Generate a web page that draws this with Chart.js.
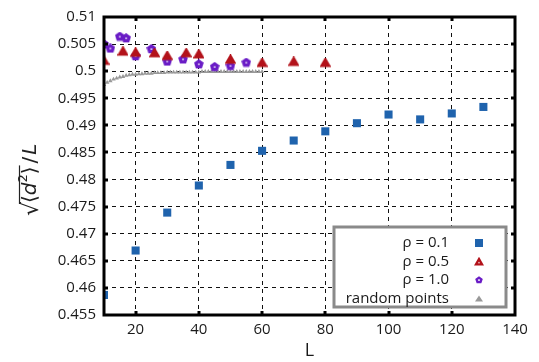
<!DOCTYPE html>
<html>
<head>
<meta charset="utf-8">
<script src="https://cdn.jsdelivr.net/npm/chart.js@4/dist/chart.umd.min.js"></script>
<style>
  html, body { margin: 0; padding: 0; background: #fff; }
  #wrap { width: 539px; height: 362px; }
</style>
</head>
<body>
<div id="wrap"><canvas id="c" width="539" height="362"></canvas></div>
<script>
// System sizes L and normalised mean distance for each density
const L_rho01 = [10, 20, 30, 40, 50, 60, 70, 80, 90, 100, 110, 120, 130];
const d_rho01 = [0.4587, 0.4669, 0.4739, 0.4789, 0.4827, 0.4853, 0.4872, 0.4889, 0.4904, 0.4920, 0.4911, 0.4922, 0.4934];

const L_rho05 = [10, 16, 20, 26, 30, 36, 40, 50, 60, 70, 80];
const d_rho05 = [0.5019, 0.5036, 0.5034, 0.5033, 0.5028, 0.5033, 0.5031, 0.5021, 0.5015, 0.5017, 0.5015];

const L_rho10 = [10, 12, 15, 17, 20, 25, 30, 35, 40, 45, 50, 55];
const d_rho10 = [0.5050, 0.5042, 0.5064, 0.5061, 0.5028, 0.5041, 0.5018, 0.5022, 0.5013, 0.5008, 0.5010, 0.5016];

const L_random = [10, 11, 12, 13, 14, 15, 16, 17, 18, 19, 20, 21, 22, 23, 24, 25, 26, 27, 28, 29, 30,
                  31, 32, 33, 34, 35, 36, 37, 38, 39, 40, 41, 42, 43, 44, 45, 46, 47, 48, 49, 50,
                  51, 52, 53, 54, 55, 56, 57, 58, 59, 60];
const d_random = [0.4975, 0.4979, 0.4982, 0.4985, 0.4987, 0.4989, 0.4990, 0.4992, 0.4993, 0.4994, 0.4994,
                  0.4995, 0.4995, 0.4996, 0.4996, 0.4996, 0.4997, 0.4997, 0.4997, 0.4997, 0.4998,
                  0.4998, 0.4998, 0.4998, 0.4998, 0.4998, 0.4998, 0.4998, 0.4998, 0.4998, 0.4998,
                  0.4999, 0.4999, 0.4999, 0.4999, 0.4999, 0.4999, 0.4999, 0.4999, 0.4999, 0.4999,
                  0.4999, 0.4999, 0.4999, 0.4999, 0.4999, 0.4999, 0.4999, 0.4999, 0.4999, 0.4999];

const xTicks = [20, 40, 60, 80, 100, 120, 140];

const BLUE = '#1f63ad', RED = '#b3121a', PURPLE = '#6a1cc6', GRAY = '#999999';
const FONT = "'Open Sans', 'DejaVu Sans', sans-serif";

function pairs(xs, ys) { return xs.map((x, i) => ({ x: x, y: ys[i] })); }

// Hollow marker glyphs (triangle and pentagon) as small canvases
function polygonMarker(sides, color, size, lw) {
  const c = document.createElement('canvas');
  c.width = size; c.height = size;
  const g = c.getContext('2d');
  const r = size / 2 - lw / 2 - 0.3;
  const cx = size / 2, cy = size / 2 + (sides === 3 ? r * 0.18 : r * 0.05);
  g.beginPath();
  for (let i = 0; i < sides; i++) {
    const a = (-90 + i * 360 / sides) * Math.PI / 180;
    const px = cx + r * Math.cos(a), py = cy + r * Math.sin(a);
    if (i === 0) g.moveTo(px, py); else g.lineTo(px, py);
  }
  g.closePath();
  g.fillStyle = '#ffffff';
  g.fill();
  g.lineJoin = 'miter';
  g.lineWidth = lw;
  g.strokeStyle = color;
  g.stroke();
  return c;
}
const triMark = polygonMarker(3, RED, 11, 3.4);
const pentMark = polygonMarker(5, PURPLE, 10, 3.4);
const triKey = polygonMarker(3, RED, 10, 2.4);
const pentKey = polygonMarker(5, PURPLE, 8, 2.4);

// Frame, inward tick marks and the y-axis title
const framePlugin = {
  id: 'frame',
  afterDatasetsDraw(chart) {
    const { ctx, chartArea: a, scales } = chart;
    ctx.save();
    ctx.fillStyle = '#000';
    scales.x.ticks.forEach(t => {
      if (t.value <= scales.x.min || t.value >= scales.x.max) return;
      const px = Math.round(scales.x.getPixelForValue(t.value));
      ctx.fillRect(px - 1.5, a.bottom - 4, 3, 4);
      ctx.fillRect(px - 1.5, a.top, 3, 4);
    });
    scales.y.ticks.forEach(t => {
      if (t.value <= scales.y.min + 1e-9 || t.value >= scales.y.max - 1e-9) return;
      const py = Math.round(scales.y.getPixelForValue(t.value));
      ctx.fillRect(a.left, py - 1.5, 4, 3);
      ctx.fillRect(a.right - 4, py - 1.5, 4, 3);
    });
    ctx.lineWidth = 3;
    ctx.strokeStyle = '#000';
    ctx.strokeRect(a.left, a.top, a.right - a.left, a.bottom - a.top);
    ctx.restore();
  },
  afterDraw(chart) {
    const { ctx } = chart;
    // y-axis title: sqrt(<d^2>) / L
    ctx.save();
    ctx.translate(28, 172);
    ctx.rotate(-Math.PI / 2);
    ctx.fillStyle = '#222';
    ctx.textBaseline = 'alphabetic';
    let x = -44;
    const base = 8;
    ctx.font = "22px 'DejaVu Sans', sans-serif";
    ctx.fillText('\u221A', x, base + 2);
    x += ctx.measureText('\u221A').width - 1;
    const x0 = x;
    ctx.font = "20px 'DejaVu Sans', sans-serif";
    ctx.fillText('\u27E8', x, base);
    x += ctx.measureText('\u27E8').width;
    ctx.font = "italic 20px 'DejaVu Sans', sans-serif";
    ctx.fillText('d', x, base);
    x += ctx.measureText('d').width;
    ctx.font = "13px 'DejaVu Sans', sans-serif";
    ctx.fillText('2', x, base - 9);
    x += ctx.measureText('2').width;
    ctx.font = "20px 'DejaVu Sans', sans-serif";
    ctx.fillText('\u27E9', x, base);
    x += ctx.measureText('\u27E9').width;
    ctx.strokeStyle = '#222';
    ctx.lineWidth = 1.2;
    ctx.beginPath();
    ctx.moveTo(x0 - 1, base - 16.5);
    ctx.lineTo(x + 1, base - 16.5);
    ctx.stroke();
    x += 3;
    ctx.font = "20px 'DejaVu Sans', sans-serif";
    ctx.fillText('/', x, base);
    x += ctx.measureText('/').width + 2;
    ctx.font = "italic 20px 'DejaVu Sans', sans-serif";
    ctx.fillText('L', x, base);
    ctx.restore();
  }
};

// Legend box in the lower right of the plot: label, then marker
const legendPlugin = {
  id: 'boxLegend',
  afterDraw(chart) {
    const { ctx } = chart;
    const bx = 334, by = 227, bw = 172, bh = 80;
    ctx.save();
    ctx.fillStyle = '#fff';
    ctx.fillRect(bx, by, bw, bh);
    ctx.lineWidth = 3;
    ctx.strokeStyle = '#8a8a8a';
    ctx.strokeRect(bx, by, bw, bh);
    ctx.font = "15px " + FONT;
    ctx.textAlign = 'right';
    ctx.textBaseline = 'middle';
    const rows = [243, 262, 280, 299];
    const keys = [null, triKey, pentKey, null];
    chart.data.datasets.forEach((ds, i) => {
      const y = rows[i];
      ctx.fillStyle = '#1a1a1a';
      ctx.fillText(ds.label, 449, y);
      const mx = 479;
      if (ds.pointStyle === 'rect') {
        ctx.fillStyle = ds.backgroundColor;
        ctx.fillRect(mx - 4, y - 4, 8, 8);
      } else if (ds.pointStyle === 'triangle') {
        ctx.fillStyle = ds.backgroundColor;
        ctx.beginPath();
        ctx.moveTo(mx, y - 3.5); ctx.lineTo(mx + 4, y + 2.5); ctx.lineTo(mx - 4, y + 2.5);
        ctx.closePath(); ctx.fill();
      } else {
        const k = keys[i];
        ctx.drawImage(k, Math.round(mx - k.width / 2), Math.round(y - k.height / 2));
      }
    });
    ctx.restore();
  }
};

new Chart(document.getElementById('c'), {
  type: 'scatter',
  data: {
    datasets: [
      { label: '\u03C1 = 0.1', data: pairs(L_rho01, d_rho01), pointStyle: 'rect', pointRadius: 5.7,
        backgroundColor: BLUE, borderColor: BLUE, borderWidth: 0 },
      { label: '\u03C1 = 0.5', data: pairs(L_rho05, d_rho05), pointStyle: triMark,
        backgroundColor: RED, borderColor: RED },
      { label: '\u03C1 = 1.0', data: pairs(L_rho10, d_rho10), pointStyle: pentMark,
        backgroundColor: PURPLE, borderColor: PURPLE },
      { label: 'random points', data: pairs(L_random, d_random), pointStyle: 'triangle', pointRadius: 2.6,
        backgroundColor: GRAY, borderColor: GRAY, borderWidth: 0 }
    ]
  },
  options: {
    responsive: false,
    animation: false,
    layout: { padding: { left: 0, right: 24, top: 12, bottom: 0 } },
    plugins: { legend: { display: false }, tooltip: { enabled: false } },
    scales: {
      x: {
        type: 'linear', min: 10, max: 140,
        afterBuildTicks(scale) { scale.ticks = [10].concat(xTicks).map(v => ({ value: v })); },
        afterFit(scale) { scale.height = 47; },
        grid: { color: '#111', lineWidth: 1, drawTicks: false },
        border: { display: false, dash: [4, 4] },
        ticks: {
          padding: 6, color: '#1a1a1a', font: { family: FONT, size: 15 },
          callback: v => (v === 10 ? '' : String(v))
        },
        title: { display: true, text: 'L', color: '#1a1a1a', font: { family: FONT, size: 18 }, padding: { top: 0, bottom: 0 } }
      },
      y: {
        type: 'linear', min: 0.455, max: 0.51,
        ticks: {
          stepSize: 0.005, padding: 8, color: '#1a1a1a', font: { family: FONT, size: 15 },
          callback: v => String(Number(v.toFixed(3)))
        },
        afterFit(scale) { scale.width = 104; },
        grid: { color: '#111', lineWidth: 1, drawTicks: false },
        border: { display: false, dash: [4, 4] }
      }
    }
  },
  plugins: [framePlugin, legendPlugin]
});
</script>
</body>
</html>
